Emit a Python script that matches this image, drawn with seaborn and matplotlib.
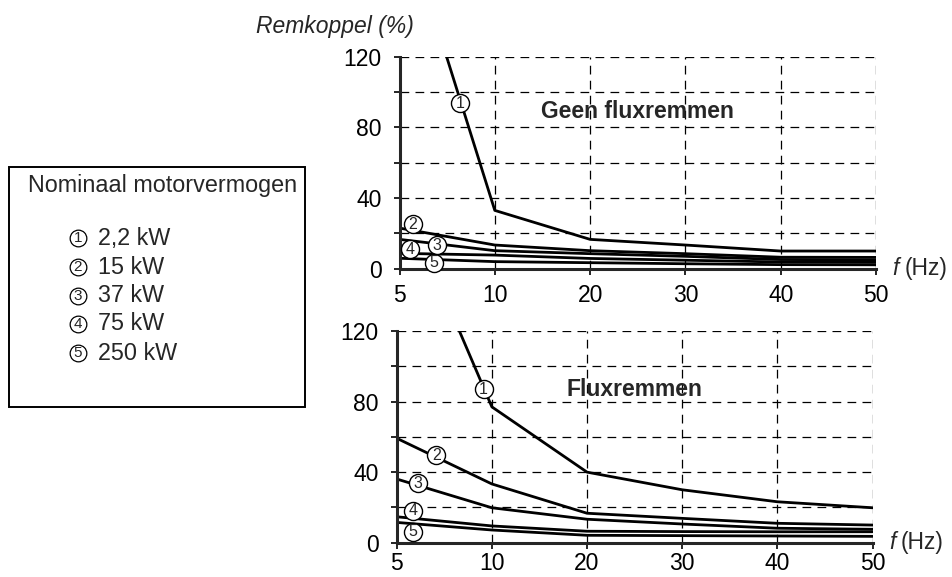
import numpy as np
import pandas as pd
import matplotlib
matplotlib.use("Agg")
import matplotlib.pyplot as plt
from matplotlib.patches import Rectangle
from matplotlib.lines import Line2D
import seaborn as sns

# Frequency points (Hz) and equally spaced tick positions
freq = [5, 10, 20, 30, 40, 50]
motors = ["1", "2", "3", "4", "5"]
motor_labels = ["2,2 kW", "15 kW", "37 kW", "75 kW", "250 kW"]

# Braking torque (%) without flux braking
no_flux = {
    "1": [205, 33, 16.6, 13.4, 10, 10],
    "2": [23, 13.4, 10.2, 8.5, 6.5, 6.4],
    "3": [16.6, 10.2, 8.5, 7.0, 5.2, 5.0],
    "4": [8.7, 7.7, 5.8, 4.8, 3.8, 3.6],
    "5": [5.9, 4.0, 3.4, 2.8, 2.3, 2.2],
}
# Braking torque (%) with flux braking
flux = {
    "1": [203, 77, 40, 30, 23.2, 19.8],
    "2": [59.2, 33.3, 16.7, 13.8, 11, 10],
    "3": [36.1, 19.8, 13.3, 10.6, 8.2, 7.6],
    "4": [14.7, 9.5, 6.5, 6.3, 6.2, 6.2],
    "5": [11.5, 7.2, 4.2, 4.0, 3.8, 3.6],
}

# Positions of the circled curve labels (f, torque)
no_flux_tags = [(8.2, 93.6), (5.7, 25.1), (6.95, 13.4), (5.56, 10.9), (6.8, 3.4)]
flux_tags = [(9.57, 87.1), (7.08, 49.7), (6.13, 33.6), (5.87, 18.0), (5.87, 6.2)]

sns.set_style("ticks")
plt.rcParams["font.family"] = ["Liberation Sans", "DejaVu Sans"]

fig = plt.figure(figsize=(9.52, 5.77), dpi=100)
ax_top = fig.add_axes([399.5 / 952, 1 - 268.7 / 577, (876 - 399.5) / 952, (268.7 - 56.7) / 577])
ax_bot = fig.add_axes([396.7 / 952, 1 - 542.7 / 577, (872.5 - 396.7) / 952, (542.7 - 331) / 577])

pos = np.arange(len(freq), dtype=float)
fwd = lambda x: np.interp(x, freq, pos)
inv = lambda p: np.interp(p, pos, freq)


def long_form(table):
    rows = []
    for m in motors:
        for f, v in zip(freq, table[m]):
            rows.append({"f": f, "torque": v, "motor": m})
    return pd.DataFrame(rows)


def draw(ax, table, tags, title, title_y, tick_pad):
    ax.set_xscale("function", functions=(fwd, inv))
    df = long_form(table)
    sns.lineplot(data=df, x="f", y="torque", hue="motor", estimator=None,
                 palette=["black"] * len(motors), linewidth=2.0, legend=False,
                 ax=ax, zorder=3)
    ax.set_xlim(5, 50)
    ax.set_ylim(0, 120)
    ax.set_xticks(freq)
    ax.set_xticklabels([str(f) for f in freq])
    ax.set_yticks([0, 40, 80, 120])
    ax.set_yticks([20, 60, 100], minor=True)
    ax.grid(True, which="both", color="black", linestyle=(0, (7, 5)), linewidth=0.9)
    for s in ("top", "right"):
        ax.spines[s].set_visible(False)
    for s in ("left", "bottom"):
        ax.spines[s].set_linewidth(2.2)
        ax.spines[s].set_zorder(4)
    ax.tick_params(axis="both", which="both", length=4, width=1.2, color="black",
                   labelsize=16.5, labelcolor="black")
    ax.tick_params(axis="x", pad=tick_pad)
    ax.tick_params(axis="y", pad=9)
    ax.set_xlabel("")
    ax.set_ylabel("")
    ax.set_facecolor("white")
    for i, (x, y) in enumerate(tags):
        ax.plot([x], [y], marker="o", markersize=13, markerfacecolor="white",
                markeredgecolor="black", markeredgewidth=1.0, zorder=5, clip_on=False)
        ax.text(x, y, motors[i], ha="center", va="center", fontsize=11.5, zorder=6)
    ax.text(25, title_y, title, ha="center", va="center",
            fontsize=16.5, fontweight="bold", zorder=6)
    ax.text(1.035, 0.0, "f", transform=ax.transAxes, ha="left",
            va="center", fontsize=16.5, fontstyle="italic")
    ax.text(1.06, 0.0, "(Hz)", transform=ax.transAxes, ha="left",
            va="center", fontsize=16.5)


draw(ax_top, no_flux, no_flux_tags, "Geen fluxremmen", 89, 7)
draw(ax_bot, flux, flux_tags, "Fluxremmen", 87, 3)

# y-axis title
fig.text(335 / 952, 1 - 26 / 577, "Remkoppel (%)", ha="center", va="center",
         fontsize=16.5, fontstyle="italic")

# Legend box with rated motor powers
fig.patches.append(Rectangle((9 / 952, 1 - 407 / 577), 296 / 952, 240 / 577,
                             transform=fig.transFigure, fill=False,
                             edgecolor="black", linewidth=1.4))
fig.text(163 / 952, 1 - 186 / 577, "Nominaal motorvermogen", ha="center",
         va="center", fontsize=16.8)
rows_y = [238, 267, 296, 324, 353]
for m, lab, yy in zip(motors, motor_labels, rows_y):
    fig.add_artist(Line2D([78 / 952], [1 - yy / 577], marker="o",
                   markersize=12, markerfacecolor="white", markeredgecolor="black",
                   markeredgewidth=0.9, transform=fig.transFigure))
    fig.text(78 / 952, 1 - yy / 577, m, ha="center", va="center", fontsize=11)
    fig.text(98 / 952, 1 - yy / 577, lab, ha="left", va="center", fontsize=16.8)

fig.savefig("out.png", dpi=100, facecolor="white")
